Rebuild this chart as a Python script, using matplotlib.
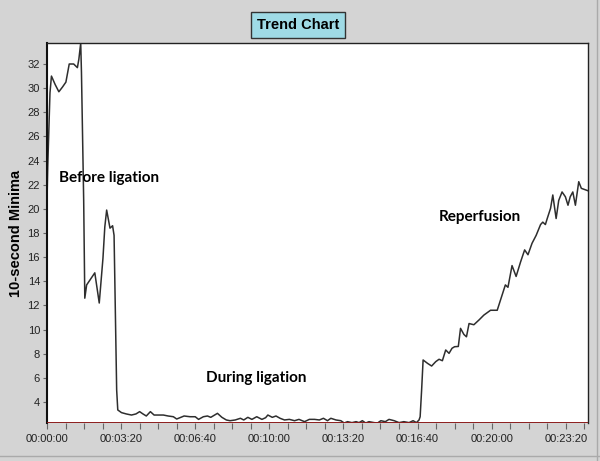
import matplotlib.pyplot as plt
from matplotlib.ticker import MultipleLocator, FuncFormatter
from matplotlib.lines import Line2D

# 10-second minima, time in seconds from start
before_t = [0, 2, 5, 8, 12, 22, 32, 42, 51, 60, 72, 82, 86, 91, 93, 96, 99,
            102, 107, 118, 129, 141, 151, 156, 161, 170, 177, 181, 185, 188]
before_v = [20.6, 23.5, 26.5, 29.6, 31.0, 30.3, 29.7, 30.1, 30.5, 32.0, 32.0, 31.7, 32.4, 33.74, 31.3, 26.0, 20.7,
            12.6, 13.7, 14.2, 14.7, 12.2, 15.9, 18.5, 19.9, 18.4, 18.6, 17.8, 10.5, 5.0]

during_t = [191, 201, 214, 228, 240, 250, 259, 268, 279, 289, 300, 314, 327, 341, 350, 361, 370, 386,
            400, 409, 422, 433, 442, 460, 472, 484, 494, 508, 522, 531, 542, 553, 566, 580, 590, 596,
            608, 618, 629, 641, 654, 668, 680, 695, 708, 722, 735, 746, 757, 766, 780, 793, 802, 811,
            823, 834, 842, 851, 860, 869, 883, 892, 901, 913, 923, 937, 950, 963, 977, 988, 997, 1004]
during_v = [3.34, 3.12, 3.01, 2.92, 3.01, 3.20, 3.01, 2.84, 3.20, 2.92, 2.92, 2.92, 2.84, 2.78, 2.59, 2.73, 2.84, 2.78,
            2.78, 2.56, 2.78, 2.84, 2.73, 3.06, 2.73, 2.51, 2.45, 2.51, 2.65, 2.51, 2.73, 2.56, 2.78, 2.56, 2.70, 2.92,
            2.73, 2.84, 2.65, 2.51, 2.56, 2.45, 2.56, 2.37, 2.56, 2.56, 2.51, 2.65, 2.45, 2.65, 2.51, 2.45, 2.26, 2.37,
            2.29, 2.37, 2.29, 2.45, 2.26, 2.37, 2.29, 2.26, 2.45, 2.37, 2.56, 2.45, 2.29, 2.37, 2.29, 2.45, 2.29, 2.51]

reperf_t = [1007, 1011, 1015, 1027, 1038, 1049, 1058, 1067, 1076, 1085, 1093, 1100, 1110, 1116, 1125, 1132,
            1139, 1152, 1166, 1179, 1197, 1215, 1224, 1237, 1244, 1255, 1266, 1278, 1289, 1298, 1309, 1320,
            1332, 1338, 1345, 1350, 1359, 1365, 1374, 1381, 1390, 1399, 1406, 1412, 1419, 1426, 1435, 1442,
            1451, 1460]
reperf_v = [2.78, 5.0, 7.48, 7.20, 6.98, 7.34, 7.54, 7.42, 8.31, 8.03, 8.45, 8.58, 8.60, 10.1, 9.6, 9.4,
            10.5, 10.4, 10.8, 11.2, 11.6, 11.6, 12.45, 13.7, 13.5, 15.3, 14.4, 15.6, 16.6, 16.2, 17.15, 17.8,
            18.7, 18.9, 18.7, 19.2, 20.05, 21.15, 19.2, 20.7, 21.4, 21.0, 20.3, 21.0, 21.4, 20.3, 22.25, 21.7,
            21.6, 21.5]

time_s = before_t + during_t + reperf_t
minima = before_v + during_v + reperf_v

y_ticks = list(range(4, 33, 2))

bg = '#d4d4d4'
fig = plt.figure(figsize=(6, 4.61), dpi=100, facecolor=bg)
ax = fig.add_axes([47 / 600, 38 / 461, 541 / 600, 380 / 461])

ax.plot(time_s, minima, color='#2e2e2e', linewidth=1.1)
ax.set_xlim(min(time_s), max(time_s))
ax.set_ylim(min(minima), max(minima))

# dark red baseline
ax.axhline(min(minima), color='#8b1c1c', linewidth=1.4, zorder=3)

# ticks
ax.xaxis.set_major_locator(MultipleLocator(200))
ax.xaxis.set_minor_locator(MultipleLocator(50))
ax.xaxis.set_major_formatter(FuncFormatter(
    lambda s, p: '%02d:%02d:%02d' % (s // 3600, (s % 3600) // 60, s % 60)))
ax.set_yticks(y_ticks)
ax.tick_params(axis='both', which='both', direction='out', color='#666666',
               labelsize=8, width=0.8, labelcolor='#222222')
ax.tick_params(axis='x', which='both', length=4, pad=4)
ax.tick_params(axis='y', length=3, pad=2)
for lab in ax.get_xticklabels() + ax.get_yticklabels():
    lab.set_family('Liberation Sans')

for side in ['top', 'right']:
    ax.spines[side].set_color('#222222')
    ax.spines[side].set_linewidth(1.0)
ax.spines['left'].set_color('#111111')
ax.spines['left'].set_linewidth(1.5)
ax.spines['bottom'].set_visible(False)

ax.set_ylabel('10-second Minima', fontsize=10.5, fontweight='bold',
              family='Liberation Sans', labelpad=3)

# annotations
ann_font = dict(fontsize=11, fontweight='bold', family='Lato', ha='center', va='center')
ax.text(167, 22.56, 'Before ligation', **ann_font)
ax.text(565, 5.99, 'During ligation', **ann_font)
ax.text(1168, 19.33, 'Reperfusion', **ann_font)

# title box
fig.text(0.497, 1 - 25 / 461, 'Trend Chart', ha='center', va='center', fontsize=10.5,
         fontweight='bold', family='Liberation Sans',
         bbox=dict(boxstyle='square,pad=0.4', facecolor='#9fdbe6', edgecolor='#333333', linewidth=1))

# panel edges
fig.add_artist(Line2D([0, 1], [5 / 461, 5 / 461], color='#aaaaaa', linewidth=1))
fig.add_artist(Line2D([597 / 600, 597 / 600], [0, 1], color='#aaaaaa', linewidth=1))

fig.savefig('out.png', dpi=100, facecolor=bg)
